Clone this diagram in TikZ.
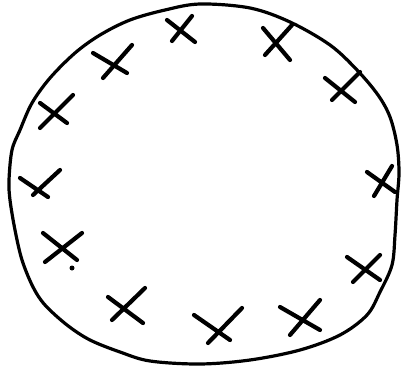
\documentclass[tikz,border=0pt]{standalone}
\begin{document}
\begin{tikzpicture}[x=1pt,y=-1pt,
  outline/.style={line width=3.2pt,line cap=round,line join=round},
  crossmark/.style={line width=4.2pt,line cap=round}]
\useasboundingbox (0,0) rectangle (401,371);
\draw[outline] plot[smooth cycle,tension=0.55] coordinates {
(200,4) (250,8) (290,22) (330,45) (357,70) (378,95) (390,117) (397,145)
(399,173) (397,200) (395,235) (392,265) (380,292) (367,315) (340,335)
(300,350) (250,360) (200,364) (150,361) (120,352) (90,340) (67,325)
(45,305) (33,287) (22,260) (15,230) (10,200) (9,180) (12,150) (20,130)
(32,103) (50,78) (75,53) (100,35) (130,20) (165,10)};
% crosses
\draw[crossmark] (167,20) -- (195,42) (192,16) -- (172,41);
\draw[crossmark] (263,28) -- (290,60) (292,25) -- (265,55);
\draw[crossmark] (325,78) -- (355,102) (360,72) -- (332,100);
\draw[crossmark] (367,172) -- (395,192) (392,166) -- (374,196);
\draw[crossmark] (347,257) -- (380,280) (380,255) -- (353,282);
\draw[crossmark] (280,307) -- (320,330) (320,300) -- (290,335);
\draw[crossmark] (194,315) -- (230,340) (242,308) -- (208,343);
\draw[crossmark] (108,297) -- (143,323) (145,288) -- (112,320);
\draw[crossmark] (43,233) -- (77,260) (82,233) -- (45,262);
\fill (72,268) circle (2.5pt);
\draw[crossmark] (20,178) -- (48,197) (60,170) -- (33,195);
\draw[crossmark] (40,103) -- (67,123) (73,95) -- (40,128);
\draw[crossmark] (93,53) -- (127,73) (132,45) -- (103,78);
\end{tikzpicture}
\end{document}
